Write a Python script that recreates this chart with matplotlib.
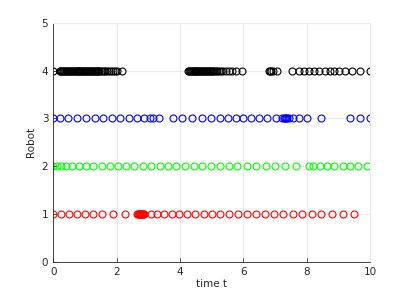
import matplotlib
matplotlib.use('Agg')
import matplotlib.pyplot as plt

# event times per robot
robot1_t = [0.0, 0.24, 0.49, 0.74, 1.0, 1.25, 1.54, 1.89, 2.28,
            2.66, 2.68, 2.70, 2.72, 2.74, 2.76, 2.78, 2.80, 2.82, 2.84, 2.86,
            3.08, 3.29, 3.50, 3.74, 3.98, 4.23, 4.49, 4.75, 5.01, 5.27, 5.54,
            5.82, 6.10, 6.39, 6.67, 6.97, 7.26, 7.56, 7.85, 8.15, 8.45, 8.79,
            9.14, 9.49]
robot2_t = [0.0, 0.13, 0.24, 0.39, 0.58, 0.81, 1.03, 1.27, 1.53, 1.78, 2.03,
            2.29, 2.56, 2.82, 3.08, 3.36, 3.63, 3.89, 4.17, 4.44, 4.71, 4.98,
            5.25, 5.54, 5.81, 6.11, 6.40, 6.71, 7.01, 7.32, 7.65, 8.08, 8.21,
            8.42, 8.63, 8.87, 9.13, 9.38, 9.63, 9.89]
robot3_t = [0.0, 0.22, 0.48, 0.76, 1.03, 1.31, 1.58, 1.85, 2.12, 2.38, 2.63,
            2.87, 3.05, 3.14, 3.34, 3.77, 4.08, 4.39, 4.68, 4.98, 5.25, 5.52,
            5.76, 5.99, 6.23, 6.48, 6.75, 7.02, 7.22, 7.27, 7.31, 7.35, 7.39,
            7.43, 7.56, 7.75, 8.00, 8.44, 9.36, 9.69, 9.98]
robot4_t = [0.0, 0.20, 0.23, 0.26, 0.29, 0.32, 0.35, 0.38, 0.41, 0.44, 0.47,
            0.50, 0.53, 0.56, 0.59, 0.62, 0.65, 0.68, 0.71, 0.74, 0.77, 0.80,
            0.83, 0.86, 0.89, 0.92, 0.95, 0.98, 1.01, 1.04, 1.07, 1.10, 1.13,
            1.16, 1.19, 1.22, 1.25, 1.28, 1.31, 1.34, 1.37, 1.40, 1.43, 1.46,
            1.50, 1.55, 1.60, 1.65, 1.70, 1.76, 1.82, 1.88, 1.95, 2.02, 2.18,
            4.25, 4.28, 4.31, 4.34, 4.37, 4.40, 4.43, 4.46, 4.49, 4.52, 4.55,
            4.58, 4.61, 4.64, 4.67, 4.70, 4.73, 4.76, 4.79, 4.82, 4.85, 4.88,
            4.91, 4.94, 4.97, 5.00, 5.04, 5.08, 5.13, 5.18, 5.24, 5.30, 5.37,
            5.45, 5.54, 5.64, 5.76, 5.97,
            6.80, 6.84, 6.88, 6.93, 7.05,
            7.53, 7.74, 7.92, 8.08, 8.24, 8.40, 8.56, 8.72, 8.87, 9.03, 9.22,
            9.44, 9.68, 9.98]

robots = [1, 2, 3, 4]
colors = ['#ff0000', '#00ff00', '#0000ff', '#000000']

fig = plt.figure(figsize=(4.09, 2.95), dpi=100)
ax = fig.add_axes([0.130, 0.113, 0.775, 0.810])

for r, times, c in zip(robots, [robot1_t, robot2_t, robot3_t, robot4_t], colors):
    ax.plot(times, [r] * len(times), 'o', mfc='none', mec=c, ms=5, mew=0.8)

ax.set_xlim(0, 10)
ax.set_ylim(0, 5)
ax.set_xticks(range(0, 11, 2))
ax.set_yticks(range(0, 6))
ax.grid(True, color='#ebebeb', linewidth=0.8)
ax.set_axisbelow(True)

grey = '#262626'
for side in ['top', 'right']:
    ax.spines[side].set_color('#ebebeb')
for side in ['left', 'bottom']:
    ax.spines[side].set_color(grey)
    ax.spines[side].set_linewidth(0.6)
ax.tick_params(direction='in', length=3, width=0.6, colors=grey,
               labelsize=7.5, top=False, right=False)
ax.set_xlabel('time t', fontsize=7.5, color=grey, labelpad=2)
ax.set_ylabel('Robot', fontsize=7.5, color=grey, labelpad=4)

fig.savefig('out.png', dpi=100)
